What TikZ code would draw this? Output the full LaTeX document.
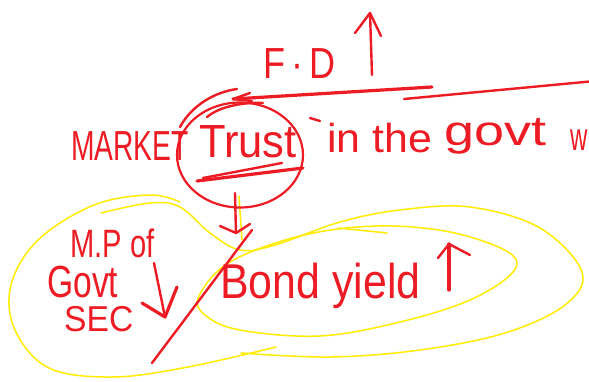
\documentclass[tikz,border=0pt]{standalone}
\usepackage{fontspec}
\setmainfont{Liberation Sans}
\usepackage{graphicx}
\usetikzlibrary{shapes.geometric}
\definecolor{pen}{RGB}{237,28,36}
\definecolor{hl}{RGB}{255,236,0}
\newcommand\hw[3]{\scalebox{#1}[#2]{#3}}
\begin{document}
\begin{tikzpicture}[x=1pt,y=-1pt,
  ink/.style={draw=pen, line width=2.4pt, line cap=round, line join=round},
  inkthick/.style={ink, line width=3.2pt},
  marker/.style={draw=hl, line width=1.5pt, line cap=round, line join=round},
  hand/.style={text=pen, inner sep=0pt, anchor=base west, font=\fontsize{30}{30}\selectfont}]
\useasboundingbox (0,0) rectangle (589,381);
\fill[white] (0,0) rectangle (589,381);
\clip (0,0) rectangle (589,381);

% yellow highlighter loops
\draw[marker] plot[smooth, tension=0.6] coordinates {(101,213) (150,203) (180,207) (210,233) (240,250) (275,245) (340,222) (400,210) (470,207) (540,228) (582,272) (565,305) (505,333) (420,350) (330,357) (241,353)};
\draw[marker] plot[smooth, tension=0.6] coordinates {(180,202) (150,195) (94,205) (38,240) (11,285) (15,330) (49,368) (113,377) (188,367) (276,347)};
\draw[marker] plot[smooth cycle, tension=0.6] coordinates {(199,296) (230,262) (300,236) (376,226) (450,232) (508,252) (513,272) (470,300) (400,322) (320,336) (240,330) (205,315)};
\draw[marker] (338,228) -- (387,233);
\draw[marker] (239,196) -- (242,240);

% F.D up
\node[hand] (fd) at (263,78) {\hw{1.2}{1.45}{F\,·\,D}};
\coordinate (fdA) at (372,75);
\coordinate (fdB) at (370,13);
\draw[ink] (fdA) -- (fdB);
\draw[ink] (355,33) -- (fdB) -- (381,36);

% long arrow into circle
\coordinate (tip) at (233,99);
\coordinate (lineA) at (432,87);
\coordinate (lineB) at (404,99);
\coordinate (lineC) at (595,81);
\draw[inkthick] (lineA) -- (tip);
\draw[ink] (lineB) -- (lineC);
\draw[ink] (250,93) -- (tip) -- (252,101);

% main sentence
\node[hand] (market) at (71,160) {\hw{0.94}{1.4}{MARKET}};
\node[hand] (trust) at (199,157) {\hw{1.45}{1.55}{Trust}};
\node[hand] (inthe) at (327,152) {\hw{1.43}{1.35}{in the}};
\node[hand] (govt) at (444,145) {\hw{1.8}{1.4}{govt}};
\node[hand] (w) at (570,150) {\hw{0.8}{1.3}{w}};
\draw[ink] (310,118) -- (320,121);

% circle around Trust
\node[draw=pen, line width=2.2pt, ellipse, minimum width=126pt, minimum height=105pt, inner sep=0pt] (ring) at (240,155) {};
\draw[ink] (237,89) .. controls (215,92) and (192,105) .. (180,127);
\draw[ink] (207,117) .. controls (220,106) and (245,102) .. (263,103);
\draw[inkthick] (197,181) -- (303,168);
\draw[ink] (203,178) -- (282,163);

% down arrow from circle
\coordinate (dA) at (235,193);
\coordinate (dB) at (236,233);
\draw[ink] (dA) -- (dB);
\draw[ink] (220,226) -- (dB) -- (250,224);

% slash
\coordinate (sA) at (152,363);
\coordinate (sB) at (252,230);
\draw[ink] (sA) -- (sB);

% left group
\node[hand, text depth=0pt] (mp) at (70,257) {\hw{0.97}{1.32}{M.P of}};
\node[hand, text depth=0pt] (gov) at (47,297) {\hw{1.12}{1.5}{Govt}};
\node[hand, text depth=0pt] (sec) at (64,331) {\hw{1.12}{1.2}{SEC}};
\coordinate (mA) at (154,263);
\coordinate (mB) at (165,317);
\draw[ink] (mA) -- (mB);
\draw[inkthick] (142,303) -- (mB) -- (177,287);

% bond yield
\node[hand] (bond) at (220,298) {\hw{1.43}{1.63}{Bond yield}};
\coordinate (bA) at (449,290);
\coordinate (bB) at (449,244);
\draw[inkthick] (bA) -- (bB);
\draw[ink] (438,258) -- (bB) -- (470,255);
\end{tikzpicture}
\end{document}
